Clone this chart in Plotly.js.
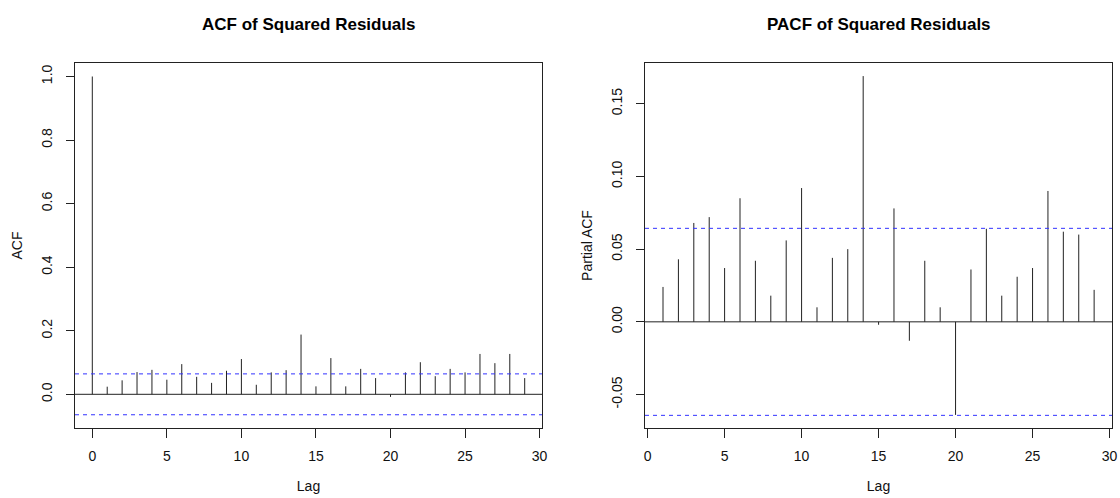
<!DOCTYPE html>
<html>
<head>
<meta charset="utf-8">
<script src="https://cdn.plot.ly/plotly-3.0.1.min.js"></script>
<style>html,body{margin:0;padding:0;background:#fff;}#chart{width:1120px;height:498px;}</style>
</head>
<body>
<div id="chart"></div>
<script>
// ACF of squared residuals, lags 0..29
const acfLags = [0,1,2,3,4,5,6,7,8,9,10,11,12,13,14,15,16,17,18,19,20,21,22,23,24,25,26,27,28,29];
const acfValues = [1.000,0.024,0.044,0.070,0.077,0.046,0.095,0.055,0.036,0.074,0.111,0.030,0.069,0.076,0.188,
                   0.025,0.114,0.025,0.080,0.051,-0.008,0.069,0.101,0.057,0.080,0.069,0.127,0.098,0.127,0.051];
// PACF of squared residuals, lags 1..29
const pacfLags = [1,2,3,4,5,6,7,8,9,10,11,12,13,14,15,16,17,18,19,20,21,22,23,24,25,26,27,28,29];
const pacfValues = [0.024,0.043,0.068,0.072,0.037,0.085,0.042,0.018,0.056,0.092,0.010,0.044,0.050,0.169,
                    -0.002,0.078,-0.013,0.042,0.010,-0.064,0.036,0.064,0.018,0.031,0.037,0.090,0.062,0.060,0.022];
const ciBound = 0.0643;

const xTickVals = [0,5,10,15,20,25,30];
const xTickText = ["0","5","10","15","20","25","30"];
const acfTickVals = [0,0.2,0.4,0.6,0.8,1.0];
const acfTickText = ["0.0","0.2","0.4","0.6","0.8","1.0"];
const pacfTickVals = [-0.05,0,0.05,0.10,0.15];
const pacfTickText = ["-0.05","0.00","0.05","0.10","0.15"];

function stems(lags, vals){
  const x=[], y=[];
  lags.forEach((l,i)=>{ x.push(l,l,null); y.push(0,vals[i],null); });
  return {x, y};
}
const s1 = stems(acfLags, acfValues);
const s2 = stems(pacfLags, pacfValues);

const W=1120, H=498;
const lineCol = '#222';
const font = {family:'Liberation Sans, Arial, sans-serif', size:14, color:'#111'};

const traces = [
  {type:'scatter', mode:'lines', x:s1.x, y:s1.y, xaxis:'x', yaxis:'y', line:{color:lineCol,width:1}, hoverinfo:'skip', showlegend:false},
  {type:'scatter', mode:'lines', x:s2.x, y:s2.y, xaxis:'x2', yaxis:'y2', line:{color:lineCol,width:1}, hoverinfo:'skip', showlegend:false}
];

function xa(domain, range){
  return {domain, range, tickvals:xTickVals, ticktext:xTickText, ticks:'outside', ticklen:9, tickcolor:lineCol,
    showline:true, mirror:true, linecolor:lineCol, linewidth:1, showgrid:false, zeroline:false,
    tickfont:font, ticklabelstandoff:6, automargin:false, fixedrange:true,
    title:{text:'Lag', font:font, standoff:18}};
}
function ya(domain, range, tv, tt, title){
  return {domain, range, tickvals:tv, ticktext:tt, ticks:'outside', ticklen:8, tickcolor:lineCol,
    showline:true, mirror:true, linecolor:lineCol, linewidth:1, showgrid:false, zeroline:false,
    tickfont:font, tickangle:-90, ticklabelstandoff:8, automargin:false, fixedrange:true,
    title:{text:title, font:font, standoff:13}};
}

const yDom = [1-428/H, 1-63/H];
const titleFont = {family:'Liberation Sans, Arial, sans-serif', size:17, color:'#000'};
const layout = {
  width:W, height:H, margin:{l:0,r:0,t:0,b:0}, paper_bgcolor:'#fff', plot_bgcolor:'#fff',
  font:font, showlegend:false,
  xaxis: xa([75/W, 542/W], [-1.16, 30.16]),
  yaxis: ya(yDom, [-0.106, 1.0425], acfTickVals, acfTickText, 'ACF'),
  xaxis2: Object.assign(xa([645/W, 1112/W], [-0.17, 30.16]), {anchor:'y2'}),
  yaxis2: Object.assign(ya(yDom, [-0.073, 0.178], pacfTickVals, pacfTickText, 'Partial ACF'), {anchor:'x2'}),
  shapes: [
    {type:'line', xref:'x domain', yref:'y', x0:0, x1:1, y0:0, y1:0, line:{color:lineCol,width:1}},
    {type:'line', xref:'x domain', yref:'y', x0:0, x1:1, y0:ciBound, y1:ciBound, line:{color:'#3333ff',width:1,dash:'4px,4px'}},
    {type:'line', xref:'x domain', yref:'y', x0:0, x1:1, y0:-ciBound, y1:-ciBound, line:{color:'#3333ff',width:1,dash:'4px,4px'}},
    {type:'line', xref:'x2 domain', yref:'y2', x0:0, x1:1, y0:0, y1:0, line:{color:lineCol,width:1}},
    {type:'line', xref:'x2 domain', yref:'y2', x0:0, x1:1, y0:ciBound, y1:ciBound, line:{color:'#3333ff',width:1,dash:'4px,4px'}},
    {type:'line', xref:'x2 domain', yref:'y2', x0:0, x1:1, y0:-ciBound, y1:-ciBound, line:{color:'#3333ff',width:1,dash:'4px,4px'}}
  ],
  annotations: [
    {text:'<b>ACF of Squared Residuals</b>', xref:'paper', yref:'paper', x:(75+542)/2/W, y:1-24/H, xanchor:'center', yanchor:'middle', showarrow:false, font:titleFont},
    {text:'<b>PACF of Squared Residuals</b>', xref:'paper', yref:'paper', x:(645+1112)/2/W, y:1-24/H, xanchor:'center', yanchor:'middle', showarrow:false, font:titleFont}
  ]
};

Plotly.newPlot('chart', traces, layout, {staticPlot:true, displayModeBar:false});
</script>
</body>
</html>
